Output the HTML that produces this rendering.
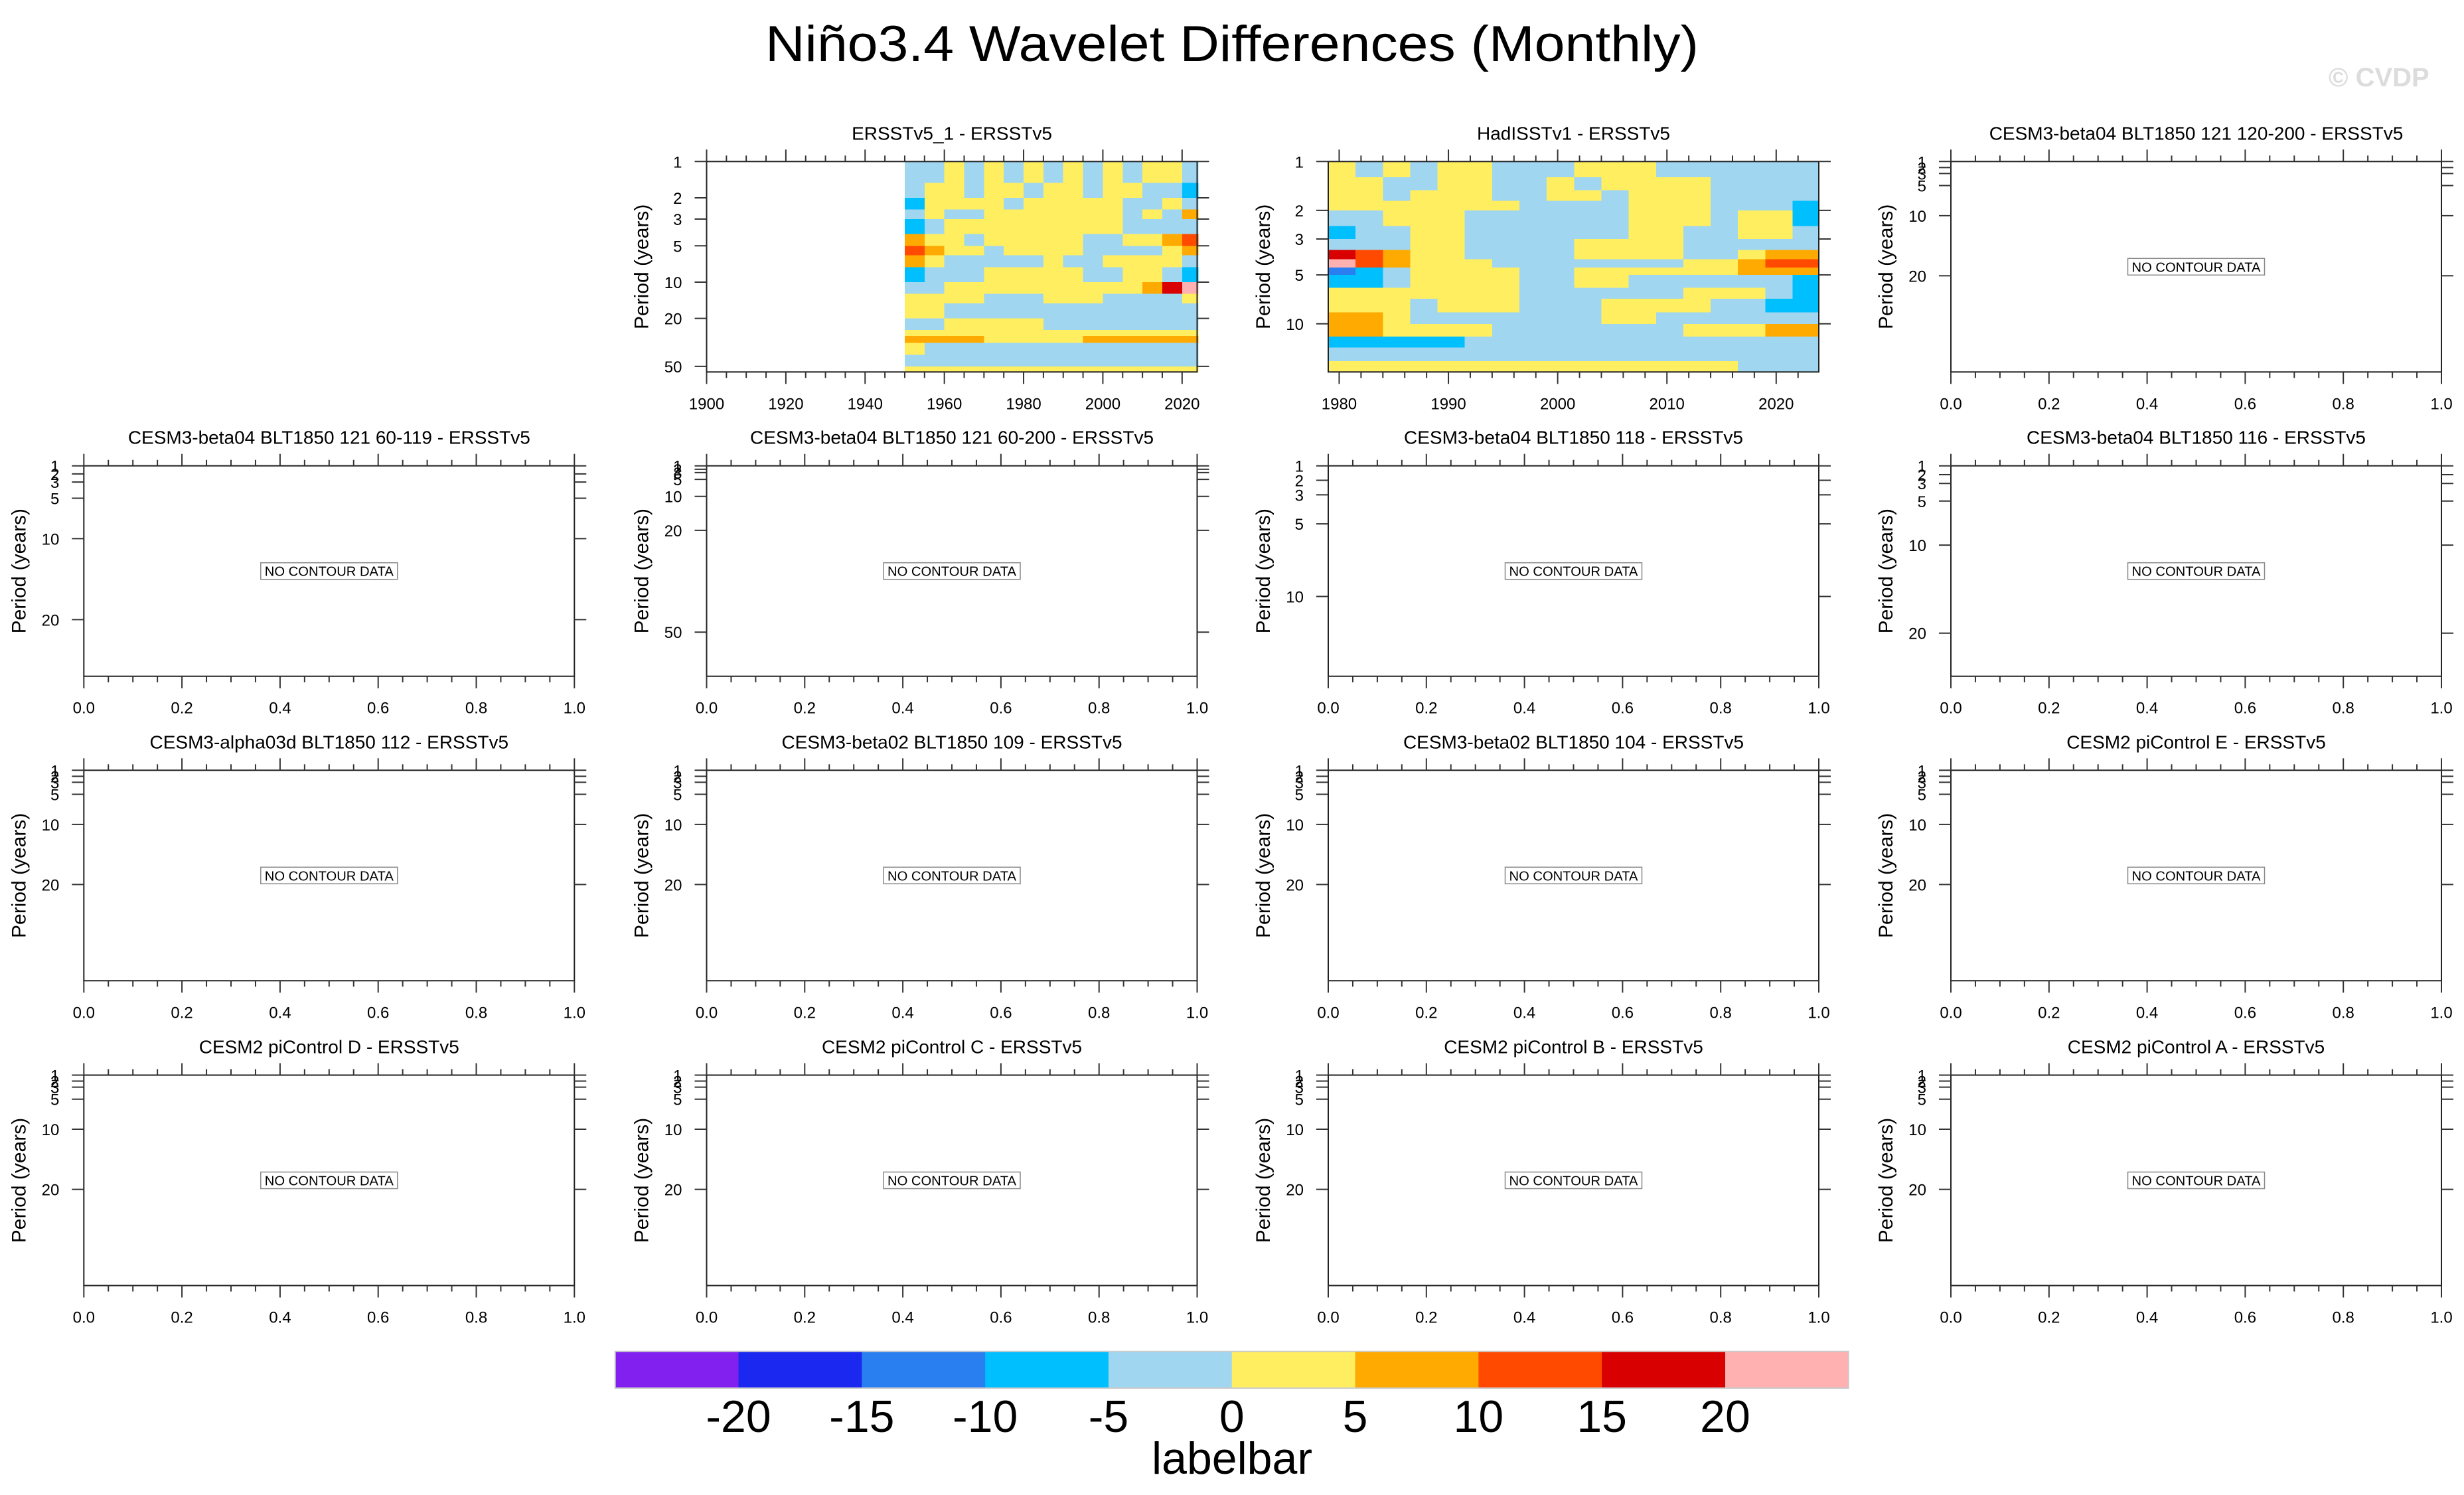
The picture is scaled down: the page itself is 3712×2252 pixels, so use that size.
<!DOCTYPE html>
<html><head><meta charset="utf-8"><title>Niño3.4 Wavelet Differences</title>
<style>html,body{margin:0;padding:0;background:#fff}svg{display:block}text{font-family:"Liberation Sans",sans-serif;fill:#000}</style>
</head><body>
<svg id="chart" width="3712" height="2252" viewBox="0 0 3712 2252" xmlns="http://www.w3.org/2000/svg">
<rect x="0" y="0" width="3712" height="2252" fill="#fff"/>
<text x="1856" y="92" font-size="76" text-anchor="middle" textLength="1406" lengthAdjust="spacingAndGlyphs">Niño3.4 Wavelet Differences (Monthly)</text>
<text x="3508" y="130" font-size="40" font-weight="bold" style="fill:#dcdcdc">© CVDP</text>
<g id="panels"></g>
<g id="labelbar"></g>
</svg>
<script>
// ---- data ----
const levelBounds = [-20,-15,-10,-5,0,5,10,15,20];
const levelColors = ["#8220F0","#1A28F0","#2A7FF0","#00BFFF","#A0D6F0","#FFEE60","#FFAA00","#FF4A00","#D80000","#FFB0B0"];
const labelbarLabels = ["-20","-15","-10","-5","0","5","10","15","20"];

const panelTitles = [
  ["", "ERSSTv5_1 - ERSSTv5", "HadISSTv1 - ERSSTv5", "CESM3-beta04 BLT1850 121 120-200 - ERSSTv5"],
  ["CESM3-beta04 BLT1850 121 60-119 - ERSSTv5", "CESM3-beta04 BLT1850 121 60-200 - ERSSTv5", "CESM3-beta04 BLT1850 118 - ERSSTv5", "CESM3-beta04 BLT1850 116 - ERSSTv5"],
  ["CESM3-alpha03d BLT1850 112 - ERSSTv5", "CESM3-beta02 BLT1850 109 - ERSSTv5", "CESM3-beta02 BLT1850 104 - ERSSTv5", "CESM2 piControl E - ERSSTv5"],
  ["CESM2 piControl D - ERSSTv5", "CESM2 piControl C - ERSSTv5", "CESM2 piControl B - ERSSTv5", "CESM2 piControl A - ERSSTv5"]
];
const emptyPeriodMax = [
  [0, 0, 0, 36],
  [27, 63, 15.5, 24.9],
  [36, 36, 36, 36],
  [36, 36, 36, 36]
];
const logPeriodTicks1 = [1,2,3,5,10,20,50];
const logPeriodTicks2 = [1,2,3,5,10];
const linPeriodTicksA = [1,2,3,5,10,20];
const linPeriodTicksB = [1,2,3,5,10,20,50];
const linPeriodTicksC = [1,2,3,5,10];
const unitTicks = [0,0.2,0.4,0.6,0.8,1.0];

// ERSSTv5_1 - ERSSTv5 : time edges (years), period edges, values [period row][time col]
const ers1Years = [1950,1955,1960,1965,1970,1975,1980,1985,1990,1995,2000,2005,2010,2015,2020,2024];
const ers1Periods = [1,1.5,2,2.5,3,4,5,6,7.5,10,12.5,15,20,25,28,32,40,50,56];
const ers1Values = [
  [-2,-2,2,-2,2,-2,2,-2,2,-2,2,-2,2,2,-2],
  [-2,2,2,-2,2,2,-2,2,2,-2,2,2,-2,-2,-7],
  [-7,2,2,2,2,-2,2,2,2,2,2,-2,-2,2,-2],
  [-2,2,-2,-2,2,2,2,2,2,2,2,-2,2,-2,7],
  [-7,-2,2,2,2,2,2,2,2,2,2,-2,-2,-2,-2],
  [7,2,2,-2,2,2,2,2,2,-2,-2,2,2,7,12],
  [12,7,2,2,-2,2,2,2,2,-2,-2,-2,-2,2,7],
  [7,2,-2,-2,-2,-2,-2,2,-2,-2,2,2,2,2,-2],
  [-7,-2,-2,-2,2,2,2,2,2,-2,-2,2,2,-2,-7],
  [-2,-2,2,2,2,2,2,2,2,2,2,2,7,17,22],
  [2,2,2,2,-2,-2,-2,2,2,2,-2,-2,-2,-2,2],
  [2,2,-2,-2,-2,-2,-2,-2,-2,-2,-2,-2,-2,-2,-2],
  [-2,-2,2,2,2,2,2,-2,-2,-2,-2,-2,-2,-2,-2],
  [2,2,2,2,2,2,2,2,2,2,2,2,2,2,2],
  [7,7,7,7,2,2,2,2,2,7,7,7,7,7,7],
  [2,-2,-2,-2,-2,-2,-2,-2,-2,-2,-2,-2,-2,-2,-2],
  [-2,-2,-2,-2,-2,-2,-2,-2,-2,-2,-2,-2,-2,-2,-2],
  [2,2,2,2,2,2,2,2,2,2,2,2,2,2,2]
];

// HadISSTv1 - ERSSTv5
const hadYears = [1979,1981.5,1984,1986.5,1989,1991.5,1994,1996.5,1999,2001.5,2004,2006.5,2009,2011.5,2014,2016.5,2019,2021.5,2023.9];
const hadPeriods = [1,1.25,1.5,1.75,2,2.5,3,3.5,4,4.5,5,6,7,8.5,10,12,14,17,19.8];
const hadValues = [
  [2,-2,2,-2,2,2,-2,-2,-2,2,2,2,-2,-2,-2,-2,-2,-2],
  [2,2,-2,-2,2,2,-2,-2,2,-2,2,2,2,2,-2,-2,-2,-2],
  [2,2,-2,2,2,2,-2,-2,2,2,-2,2,2,2,-2,-2,-2,-2],
  [2,2,2,2,2,2,2,-2,-2,-2,-2,2,2,2,-2,-2,-2,-7],
  [-2,-2,2,2,2,-2,-2,-2,-2,-2,-2,2,2,2,-2,2,2,-7],
  [-7,-2,-2,2,2,-2,-2,-2,-2,-2,-2,2,2,-2,-2,2,2,-2],
  [-2,-2,-2,2,2,-2,-2,-2,-2,2,2,2,2,-2,-2,-2,-2,-2],
  [17,12,7,2,2,-2,-2,-2,-2,2,2,2,2,-2,-2,2,7,7],
  [22,12,7,2,2,2,-2,-2,-2,-2,-2,-2,-2,2,2,7,12,12],
  [-12,-7,-2,2,2,2,2,-2,-2,2,2,2,2,2,2,7,7,7],
  [-7,-7,-2,2,2,2,2,-2,-2,2,2,-2,-2,-2,-2,-2,-2,-7],
  [2,2,2,2,2,2,2,-2,-2,-2,-2,-2,-2,2,2,2,-2,-7],
  [2,2,2,-2,2,2,2,-2,-2,-2,2,2,2,2,-2,-2,-7,-7],
  [7,7,2,-2,-2,-2,-2,-2,-2,-2,2,2,-2,-2,-2,-2,-2,-2],
  [7,7,2,2,2,2,-2,-2,-2,-2,-2,-2,-2,2,2,2,7,7],
  [-7,-7,-7,-7,-7,-2,-2,-2,-2,-2,-2,-2,-2,-2,-2,-2,-2,-2],
  [-2,-2,-2,-2,-2,-2,-2,-2,-2,-2,-2,-2,-2,-2,-2,-2,-2,-2],
  [2,2,2,2,2,2,2,2,2,2,2,2,2,2,2,-2,-2,-2]
];

// ---- layout ----
const NS = "http://www.w3.org/2000/svg";
const colLeft = [126.3, 1064.5, 2001, 2939];
const rowTop = [243.3, 701.7, 1160.3, 1619.5];
const PW = 739, PH = 317;

function mk(tag, attrs, parent){
  const e = document.createElementNS(NS, tag);
  for (const k in attrs) e.setAttribute(k, attrs[k]);
  if (parent) parent.appendChild(e);
  return e;
}
function colorFor(v){
  let i = 0;
  while (i < levelBounds.length && v >= levelBounds[i]) i++;
  return levelColors[i];
}

const panelsG = document.getElementById("panels");

function drawPanel(r, c, opts){
  const L = colLeft[c], T = rowTop[r], R = L + PW, B = T + PH;
  const g = mk("g", {}, panelsG);
  
  
  const xS = v => L + (v - opts.xmin) / (opts.xmax - opts.xmin) * PW;
  const yS = opts.log
    ? (p => T + (Math.log10(p) - Math.log10(opts.ymin)) / (Math.log10(opts.ymax) - Math.log10(opts.ymin)) * PH)
    : (p => T + (p - opts.ymin) / (opts.ymax - opts.ymin) * PH);

  if (opts.values){
    const cg = mk("g", {"shape-rendering":"crispEdges"}, g);
    
    
    opts.values.forEach((row, i) => {
      row.forEach((v, j) => {
        const x0 = xS(opts.xEdges[j]), x1 = xS(opts.xEdges[j+1]);
        const y0 = yS(opts.yEdges[i]), y1 = yS(Math.min(opts.yEdges[i+1], opts.ymax));
        const cell = mk("rect", {x:x0, y:y0, width:x1-x0+0.6, height:y1-y0+0.6, fill:colorFor(v)}, cg);
        
        
      });
    });
  }

  const fr = mk("rect", {x:L, y:T, width:PW, height:PH, fill:"none", stroke:"#222", "stroke-width":2}, g);
  
  

  for (let v = opts.xmin0; v <= opts.xmax + 1e-9; v += opts.xMinor){
    const vv = Math.round(v * 1000) / 1000;
    if (vv < opts.xmin - 1e-9) continue;
    const major = Math.abs((vv - opts.xMajor0) / opts.xMajor - Math.round((vv - opts.xMajor0) / opts.xMajor)) < 1e-6;
    const len = major ? 18 : 9;
    const x = xS(vv);
    mk("line", {x1:x, x2:x, y1:B, y2:B+len, stroke:"#333", "stroke-width":2}, g);
    mk("line", {x1:x, x2:x, y1:T, y2:T-len, stroke:"#333", "stroke-width":2}, g);
  }
  opts.xLabels.forEach(v => {
    const t = mk("text", {x:xS(v), y:B+56, "font-size":24, "text-anchor":"middle"}, g);
    
    
    t.textContent = opts.xFmt(v);
  });
  opts.yTicks.forEach(p => {
    if (p > opts.ymax) return;
    const y = yS(p);
    mk("line", {x1:L-18, x2:L, y1:y, y2:y, stroke:"#333", "stroke-width":2}, g);
    mk("line", {x1:R, x2:R+18, y1:y, y2:y, stroke:"#333", "stroke-width":2}, g);
    const t = mk("text", {x:L-37, y:y+9, "font-size":24, "text-anchor":"end"}, g);
    
    
    t.textContent = String(p);
  });
  const tt = mk("text", {x:L+PW/2, y:T-33, "font-size":28, "text-anchor":"middle"}, g);
  
  
  tt.textContent = panelTitles[r][c];
  const yt = mk("text", {x:0, y:0, "font-size":30, "text-anchor":"middle", transform:`translate(${L-88},${T+PH/2}) rotate(-90)`}, g);
  
  
  yt.textContent = "Period (years)";

  if (!opts.values){
    const nb = mk("g", {}, g);
    
    
    mk("rect", {x:L+PW/2-103, y:T+PH/2-12.5, width:206, height:25, fill:"#fff", stroke:"#888", "stroke-width":1.5}, nb);
    const t = mk("text", {x:L+PW/2, y:T+PH/2+7.5, "font-size":20, "text-anchor":"middle", textLength:194, lengthAdjust:"spacingAndGlyphs"}, nb);
    t.textContent = "NO CONTOUR DATA";
  }
}

drawPanel(0, 1, {slug:"ersstv5-1", log:true, xmin:1900, xmax:2023.8, xmin0:1900, xMinor:5, xMajor:20, xMajor0:1900,
  xLabels:[1900,1920,1940,1960,1980,2000,2020], xFmt:v=>String(v),
  ymin:1, ymax:55.6, yTicks:logPeriodTicks1, values:ers1Values, xEdges:ers1Years, yEdges:ers1Periods});
drawPanel(0, 2, {slug:"hadisstv1", log:true, xmin:1979, xmax:2023.9, xmin0:1980, xMinor:2, xMajor:10, xMajor0:1980,
  xLabels:[1980,1990,2000,2010,2020], xFmt:v=>String(v),
  ymin:1, ymax:19.8, yTicks:logPeriodTicks2, values:hadValues, xEdges:hadYears, yEdges:hadPeriods});

for (let r = 0; r < 4; r++){
  for (let c = 0; c < 4; c++){
    if (r === 0 && c < 3) continue;
    const ymax = emptyPeriodMax[r][c];
    const ticks = ymax > 50 ? linPeriodTicksB : (ymax < 20 ? linPeriodTicksC : linPeriodTicksA);
    drawPanel(r, c, {log:false, xmin:0, xmax:1, xmin0:0, xMinor:0.05, xMajor:0.2, xMajor0:0,
      xLabels:unitTicks, xFmt:v=>v.toFixed(1), ymin:1, ymax:ymax, yTicks:ticks});
  }
}

const lb = document.getElementById("labelbar");


const LBL = 926.7, LBR = 2784.8, LBT = 2035.7, LBB = 2091;
const boxW = (LBR - LBL) / levelColors.length;
levelColors.forEach((col, i) => {
  const b = mk("rect", {x:LBL + i*boxW, y:LBT, width:boxW+0.5, height:LBB-LBT, fill:col}, lb);
  
  
});
mk("rect", {x:LBL, y:LBT, width:LBR-LBL, height:LBB-LBT, fill:"none", stroke:"#ccc", "stroke-width":2}, lb);
labelbarLabels.forEach((s, i) => {
  const t = mk("text", {x:LBL + (i+1)*boxW, y:2157, "font-size":68, "text-anchor":"middle"}, lb);
  
  
  t.textContent = s;
});
const lt = mk("text", {x:1856, y:2220, "font-size":68, "text-anchor":"middle"}, lb);


lt.textContent = "labelbar";
</script>
</body></html>
